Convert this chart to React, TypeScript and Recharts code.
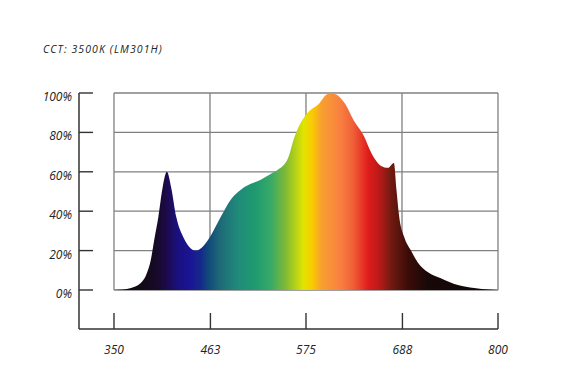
import { AreaChart, Area, XAxis, YAxis, ReferenceLine } from 'recharts'

const wavelengths = [
  350, 360, 370, 380, 388, 393, 397, 402, 407, 412, 417, 423, 431, 438, 446, 454, 464, 475, 487,
  499, 511, 522, 534, 542, 554, 561, 569, 577, 589, 601, 608, 620, 631, 643, 651, 663, 671, 678,
  681, 684, 690, 698, 706, 718, 733, 753, 772, 790, 800,
]
const intensity = [
  0, 0.2, 1, 3, 8, 15, 25, 37, 52, 60, 52, 37, 27, 22, 20, 22, 28, 37, 46,
  51, 54, 56, 59, 61, 67, 77, 85, 90, 94, 99.5, 99.5, 95, 86, 78, 70, 63, 62, 64.5,
  51, 38, 27, 20, 14, 9, 6, 2.5, 1, 0.2, 0,
]
const xTicks = [350, 463, 575, 688, 800]
const yTicks = [0, 20, 40, 60, 80, 100]
const gridX = [350, 462.5, 575, 687.5, 800]

// spectrum colours along the wavelength range
const spectrumStops: [number, string][] = [
  [350, '#0e0a0e'],
  [380, '#120a14'],
  [400, '#170a28'],
  [410, '#1c0a45'],
  [425, '#1a1080'],
  [440, '#1a1595'],
  [452, '#152a8a'],
  [460, '#10487a'],
  [475, '#1f6a78'],
  [495, '#208a7a'],
  [515, '#1e9a70'],
  [534, '#38aa68'],
  [550, '#7ab838'],
  [560, '#a8cc20'],
  [572, '#e0e400'],
  [582, '#f8cc00'],
  [593, '#f8a030'],
  [615, '#f88040'],
  [630, '#f06038'],
  [648, '#e01c1c'],
  [663, '#b01a18'],
  [675, '#701a10'],
  [695, '#3a0c08'],
  [718, '#180808'],
  [800, '#100808'],
]

const data = wavelengths.map((wl, i) => ({ wl, pct: intensity[i] }))

const FONT = '"Open Sans", "DejaVu Sans", sans-serif'

function YTick({ x, y, payload }: any) {
  return (
    <g>
      <line x1={x + 7} x2={x + 21} y1={y} y2={y} stroke="#333" strokeWidth={1.4} />
      <text x={x} y={y + 8} textAnchor="end" fontSize={12} fontStyle="italic" fontFamily={FONT} fill="#222">
        {payload.value}%
      </text>
    </g>
  )
}

function XTick({ x, y, payload }: any) {
  return (
    <g>
      <line x1={x} x2={x} y1={y} y2={y - 16} stroke="#333" strokeWidth={1.4} />
      <text x={x} y={y + 25} textAnchor="middle" fontSize={12} fontStyle="italic" fontFamily={FONT} fill="#222">
        {payload.value}
      </text>
    </g>
  )
}

export default function App() {
  const lo = wavelengths[0]
  const hi = wavelengths[wavelengths.length - 1]
  return (
    <AreaChart
      width={559}
      height={370}
      data={data}
      margin={{ top: 85, right: 69, bottom: 0, left: 0 }}
    >
      <defs>
        <linearGradient id="spectrum" x1="0" y1="0" x2="1" y2="0">
          {spectrumStops.map(([w, c]) => (
            <stop key={w} offset={(w - lo) / (hi - lo)} stopColor={c} />
          ))}
        </linearGradient>
      </defs>
      <text x={35} y={45} fontSize={10.5} fontStyle="italic" letterSpacing={1.1} fontFamily={FONT} fill="#222">
        CCT: 3500K (LM301H)
      </text>
      <XAxis
        dataKey="wl"
        type="number"
        domain={[309, 800]}
        ticks={xTicks}
        allowDataOverflow
        height={49}
        tickSize={0}
        tickMargin={0}
        tick={<XTick />}
        axisLine={{ stroke: '#333', strokeWidth: 1.5 }}
      />
      <YAxis
        type="number"
        domain={[-19.8, 100]}
        ticks={yTicks}
        allowDataOverflow
        width={71}
        tickSize={0}
        tickMargin={7}
        tick={<YTick />}
        axisLine={{ stroke: '#333', strokeWidth: 1.5 }}
      />
      {yTicks.map((v) => (
        <ReferenceLine
          key={'h' + v}
          segment={[{ x: 350, y: v }, { x: 800, y: v }]}
          stroke="#808080"
          strokeWidth={1.3}
          zIndex={50}
        />
      ))}
      {gridX.map((v) => (
        <ReferenceLine
          key={'v' + v}
          segment={[{ x: v, y: 0 }, { x: v, y: 100 }]}
          stroke="#808080"
          strokeWidth={1.3}
          zIndex={50}
        />
      ))}
      <Area
        type="monotone"
        dataKey="pct"
        baseValue={0}
        stroke="none"
        fill="url(#spectrum)"
        fillOpacity={1}
        isAnimationActive={false}
      />
    </AreaChart>
  )
}
